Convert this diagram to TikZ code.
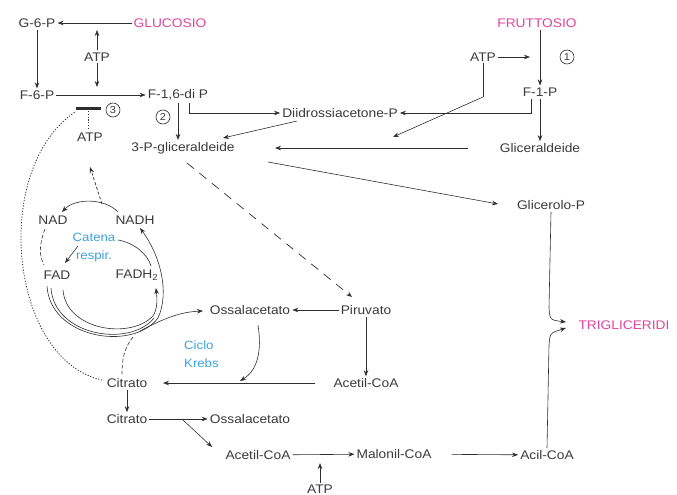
\documentclass[tikz,border=0pt]{standalone}
\usepackage{fontspec}
\setmainfont{Liberation Sans}[FakeStretch=1.1]
\usetikzlibrary{arrows.meta,calc}
\definecolor{txt}{HTML}{3A3A3A}
\definecolor{ln}{HTML}{2E2E2E}
\definecolor{pk}{HTML}{E0449E}
\definecolor{bl}{HTML}{3BA3DA}
\tikzset{
  lbl/.style={font=\fontsize{12.5}{14}\selectfont, text=txt, inner sep=2pt},
  blu/.style={font=\fontsize{12}{18}\selectfont, text=bl, inner sep=0pt, align=center},
  num/.style={draw=ln, circle, line width=0.6pt, inner sep=0pt, minimum size=14pt, font=\fontsize{10}{10}\selectfont, text=txt},
  arr/.style={draw=ln, line width=0.6pt, -{Stealth[length=6pt,width=4.5pt]}},
  ln/.style={draw=ln, line width=0.6pt},
  dots/.style={draw=ln, line width=0.8pt, dash pattern=on 1.2pt off 1.6pt},
  dsh/.style={draw=ln, line width=0.7pt, dash pattern=on 9pt off 7pt}
}
\begin{document}
\begin{tikzpicture}[x=1pt,y=-1pt]
\useasboundingbox (0,0) rectangle (677,495);
% nodes
\node[lbl] (g6p) at (37,23) {G-6-P};
\node[lbl,text=pk] (gluc) at (170,23) {GLUCOSIO};
\node[lbl] (atp1) at (97,57) {ATP};
\node[lbl] (f6p) at (37,95) {F-6-P};
\node[lbl] (f16) at (178,95) {F-1,6-di P};
\node[num] (n3) at (113,110) {3};
\node[lbl] (atp2) at (90,137) {ATP};
\node[num] (n2) at (163,117) {2};
\node[lbl] (gap) at (183,148) {3-P-gliceraldeide};
\node[lbl] (dhap) at (340,113) {Diidrossiacetone-P};
\node[lbl] (atp3) at (483,57) {ATP};
\node[lbl,text=pk] (frut) at (537,23) {FRUTTOSIO};
\node[num] (n1) at (567,57) {1};
\node[lbl] (f1p) at (540,92) {F-1-P};
\node[lbl] (glald) at (540,148) {Gliceraldeide};
\node[lbl] (glyp) at (551,205) {Glicerolo-P};
\node[lbl,text=pk] (tg) at (624,325) {TRIGLICERIDI};
\node[lbl] (piru) at (366,310) {Piruvato};
\node[lbl] (oaa) at (250,310) {Ossalacetato};
\node[lbl] (acoa) at (366,383) {Acetil-CoA};
\node[lbl] (cit1) at (127,383) {Citrato};
\node[lbl] (cit2) at (127,419) {Citrato};
\node[lbl] (oaa2) at (250,419) {Ossalacetato};
\node[lbl] (acoa2) at (258,455) {Acetil-CoA};
\node[lbl] (mal) at (394,454) {Malonil-CoA};
\node[lbl] (acil) at (547,455) {Acil-CoA};
\node[lbl] (atp4) at (320,489) {ATP};
\node[lbl] (nad) at (53,220) {NAD};
\node[lbl] (nadh) at (135,220) {NADH};
\node[lbl] (fad) at (57,275) {FAD};
\node[lbl] (fadh) at (137,275) {FADH\textsubscript{2}};
\node[blu] (catena) at (94,248) {Catena\\respir.};
\node[blu,align=left,anchor=west] (krebs) at (184,354) {Ciclo\\Krebs};
% free-end coordinates
\coordinate (t1) at (97,30);
\coordinate (t2) at (97,87);
\coordinate (b1) at (76,108);
\coordinate (b2) at (101,108);
\coordinate (bm) at (88,111);
\coordinate (k1) at (483,97);
\coordinate (k2) at (393,137);
\coordinate (k3) at (530,57);
\coordinate (gl1) at (468,148);
\coordinate (gl2) at (275,148);
\coordinate (dh1) at (297,121);
\coordinate (dh2) at (223,138);
\coordinate (gp1) at (268,162);
\coordinate (gp2) at (498,204);
\coordinate (ds1) at (187,163);
\coordinate (ds2) at (352,297);
\coordinate (ac1) at (315,383);
\coordinate (ac2) at (163,383);
\coordinate (oa1) at (258,325);
\coordinate (oa2) at (240,381);
\coordinate (ct1) at (183,420);
\coordinate (ct2) at (212,447);
\coordinate (mt) at (320,463);
% glycolysis
\draw[arr] (gluc) -- (g6p);
\draw[arr] (g6p) -- (f6p);
\draw[arr] (atp1) -- (t1);
\draw[arr] (atp1) -- (t2);
\draw[arr] (f6p) -- (f16);
\draw[draw=ln, line width=3pt] (b1) -- (b2);
\draw[dots] (bm) -- (atp2.north -| bm);
\draw[arr] (f16.south) -- (f16.south |- gap.north);
\draw[arr] ($(f16.south)+(11,0)$) |- (dhap.west);
\draw[arr] ($(f1p.south)+(-9,0)$) |- (dhap.east);
\draw[arr] (atp3) -- (k3);
\draw[ln] (atp3.south) -- (k1);
\draw[arr] (k1) -- (k2);
\draw[arr] (f1p.north |- frut.south) -- (f1p.north);
\draw[arr] (f1p) -- (glald);
\draw[arr] (gl1) -- (gl2);
\draw[arr] (dh1) -- (dh2);
\draw[arr] (gp1) -- (gp2);
\draw[arr,dsh] (ds1) -- (ds2);
\draw[arr] (piru) -- (oaa);
\draw[arr] (piru) -- (acoa);
\draw[arr] (ac1) -- (ac2);
\draw[arr] (oa1) .. controls (262,350) and (258,370) .. (oa2);
\draw[arr] (cit1) -- (cit2);
\draw[arr] (cit2) -- (oaa2);
\draw[arr] (ct1) -- (ct2);
\draw[arr] (acoa2) -- (mal);
\draw[arr] (atp4) -- (mt);
\draw[arr,shorten <=18pt] (mal) -- (acil);
% triglycerides
\draw[arr] (acil.north) -- (549,345) .. controls (550,333) .. (566,328);
\draw[arr] (glyp.south) -- (549,308) .. controls (550,320) .. (566,322);
% respiratory chain / Krebs loops
\draw[arr] (118,212) .. controls (105,198) and (75,198) .. (62,212);
\draw[arr,dsh,dash pattern=on 3pt off 2pt] (102,204) -- (90,167);
\draw[arr] (78,246) -- (65,263);
\draw[ln] (118,240) .. controls (135,243) and (148,255) .. (151,266);
\draw[ln,dash pattern=on 4pt off 2pt] (45,229) .. controls (39,245) and (39,255) .. (44,265);
\draw[arr] (47,286) .. controls (50,338) and (132,352) .. (158,318) .. controls (170,292) and (160,255) .. (140,228);
\draw[ln] (51,288) .. controls (54,336) and (130,348) .. (154,318);
\draw[arr] (63,290) .. controls (66,330) and (130,340) .. (153,316) .. controls (158,308) and (157,298) .. (156,288);
\draw[arr] (140,331) .. controls (165,318) and (180,312) .. (203,311);
\draw[ln,dash pattern=on 4pt off 2pt] (133,337) .. controls (124,348) and (122,360) .. (122,374);
\draw[dots] (102,380) .. controls (10,360) and (-10,170) .. (75,112);
\end{tikzpicture}
\end{document}
